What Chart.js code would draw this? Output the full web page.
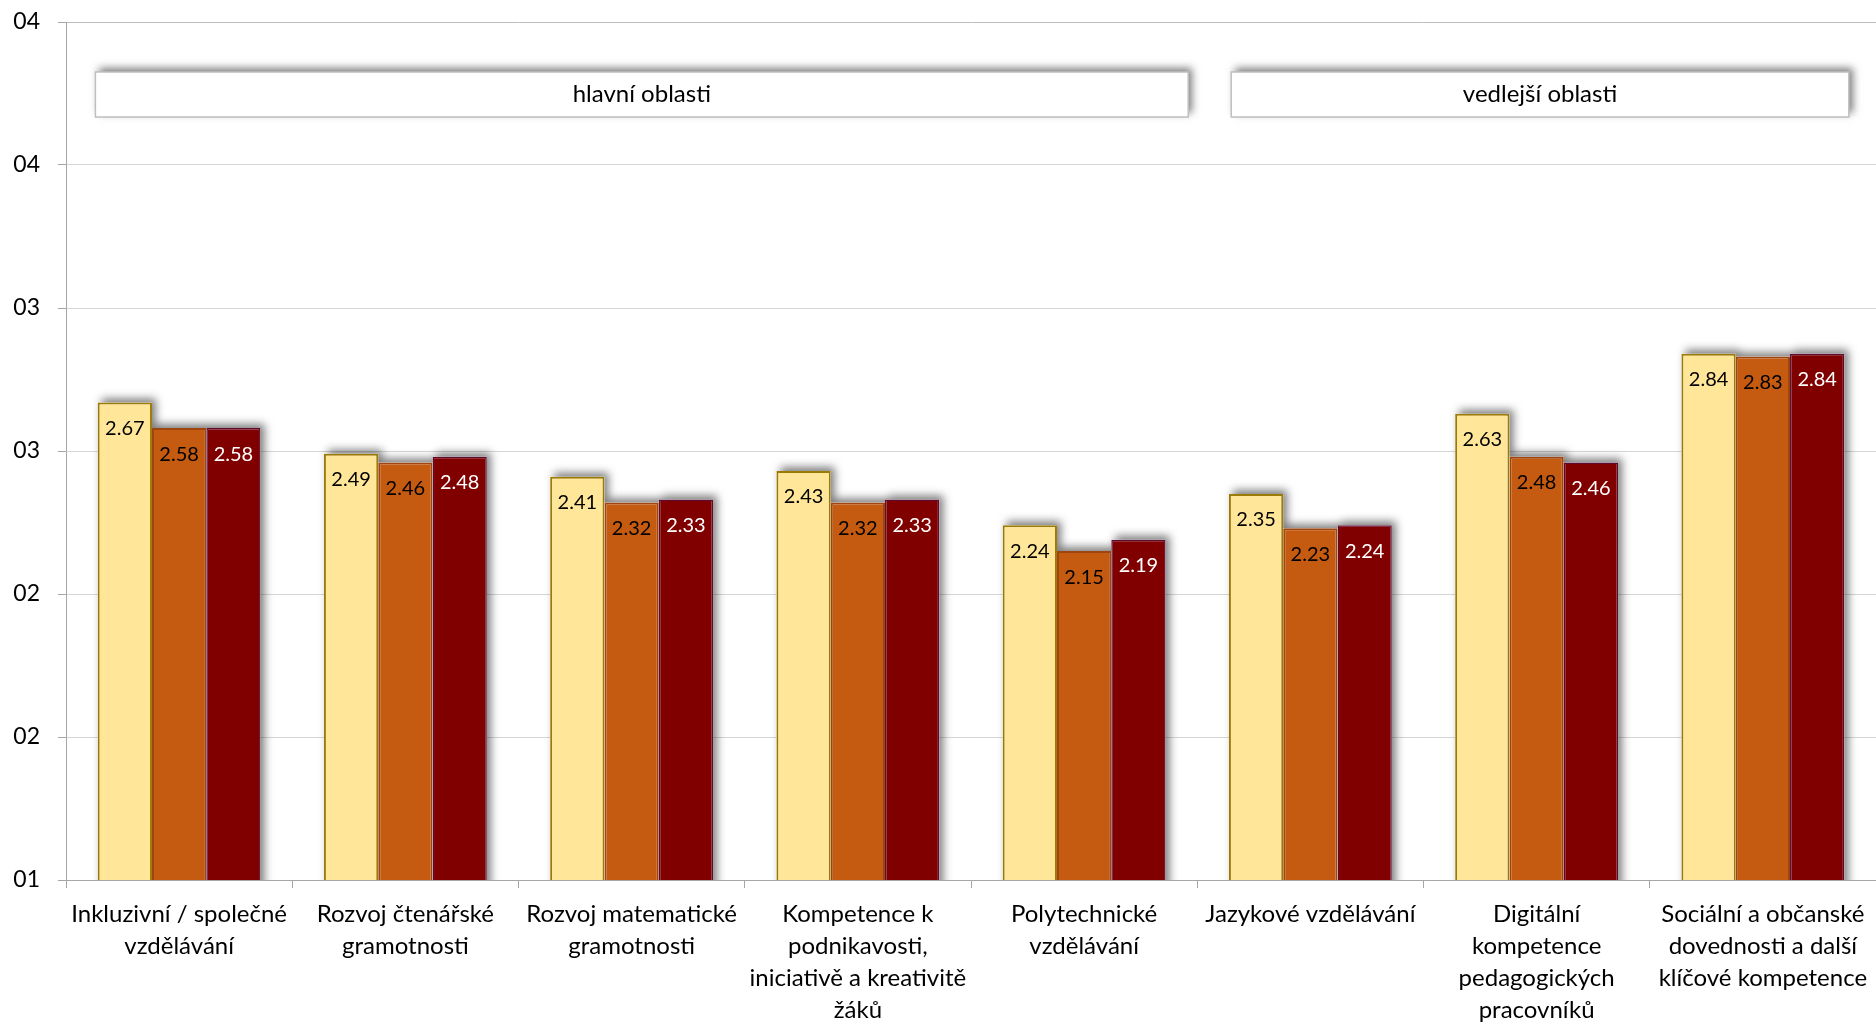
<!DOCTYPE html>
<html><head><meta charset="utf-8">
<script src="https://cdn.jsdelivr.net/npm/chart.js@4.4.1/dist/chart.umd.min.js"></script>
<style>html,body{margin:0;padding:0;background:#fff;}canvas{display:block}</style>
</head><body>
<canvas id="c" width="1876" height="1025"></canvas>
<script>
const categories = [
  ["Inkluzivní / společné", "vzdělávání"],
  ["Rozvoj čtenářské", "gramotnosti"],
  ["Rozvoj matematické", "gramotnosti"],
  ["Kompetence k", "podnikavosti,", "iniciativě a kreativitě", "žáků"],
  ["Polytechnické", "vzdělávání"],
  ["Jazykové vzdělávání"],
  ["Digitální", "kompetence", "pedagogických", "pracovníků"],
  ["Sociální a občanské", "dovednosti a další", "klíčové kompetence"]
];
const series1 = [2.67, 2.49, 2.41, 2.43, 2.24, 2.35, 2.63, 2.84];
const series2 = [2.58, 2.46, 2.32, 2.32, 2.15, 2.23, 2.48, 2.83];
const series3 = [2.58, 2.48, 2.33, 2.33, 2.19, 2.24, 2.46, 2.84];
const yTickLabels = ["01", "02", "02", "03", "03", "04", "04"];
const groupLabels = ["hlavní oblasti", "vedlejší oblasti"];
const groupFirst = [0, 5];
const groupLast = [4, 7];

const FONT = "Lato, 'Open Sans', sans-serif";

const barShadow = {
  id: 'barShadow',
  beforeDatasetsDraw(chart) {
    const ctx = chart.ctx, a = chart.chartArea;
    ctx.save();
    ctx.beginPath();
    ctx.rect(a.left, a.top - 20, a.right - a.left + 20, a.bottom - a.top + 20);
    ctx.clip();
    ctx.shadowColor = 'rgba(0,0,0,0.5)';
    ctx.shadowBlur = 9;
    ctx.shadowOffsetX = 4;
    ctx.shadowOffsetY = -4;
    ctx.fillStyle = '#ffffff';
    ctx.beginPath();
    chart.data.datasets.forEach((ds, i) => {
      chart.getDatasetMeta(i).data.forEach(el => {
        const p = el.getProps(['x', 'y', 'base', 'width'], true);
        ctx.rect(p.x - p.width / 2, p.y, p.width, p.base - p.y);
      });
    });
    ctx.fill();
    ctx.restore();
  }
};

const groupBoxes = {
  id: 'groupBoxes',
  afterDatasetsDraw(chart, args, opts) {
    const ctx = chart.ctx, xs = chart.scales.x, a = chart.chartArea;
    const cw = xs.getPixelForValue(1) - xs.getPixelForValue(0);
    groupLabels.forEach((lab, g) => {
      const x0 = xs.getPixelForValue(groupFirst[g]) + opts.insetLeft[g] * cw;
      const x1 = xs.getPixelForValue(groupLast[g]) + opts.insetRight[g] * cw;
      const y0 = a.top + opts.top, y1 = a.top + opts.top + opts.height;
      ctx.save();
      ctx.shadowColor = 'rgba(0,0,0,0.5)';
      ctx.shadowBlur = 8;
      ctx.shadowOffsetX = 4;
      ctx.shadowOffsetY = -4;
      ctx.fillStyle = '#ffffff';
      ctx.fillRect(x0, y0, x1 - x0, y1 - y0);
      ctx.restore();
      ctx.save();
      ctx.strokeStyle = '#BFBFBF';
      ctx.lineWidth = 1.5;
      ctx.strokeRect(x0, y0, x1 - x0, y1 - y0);
      ctx.fillStyle = '#000';
      ctx.font = "24px " + FONT;
      ctx.textAlign = 'center';
      ctx.textBaseline = 'middle';
      ctx.fillText(lab, (x0 + x1) / 2, (y0 + y1) / 2);
      ctx.restore();
    });
  }
};

const valueLabels = {
  id: 'valueLabels',
  afterDatasetsDraw(chart, args, opts) {
    const ctx = chart.ctx;
    ctx.save();
    ctx.font = "20px " + FONT;
    ctx.textAlign = 'center';
    ctx.textBaseline = 'middle';
    chart.data.datasets.forEach((ds, i) => {
      ctx.fillStyle = opts.colors[i];
      chart.getDatasetMeta(i).data.forEach((el, j) => {
        const p = el.getProps(['x', 'y'], true);
        ctx.fillText(ds.data[j].toFixed(2), p.x, p.y + opts.offset);
      });
    });
    ctx.restore();
  }
};

new Chart(document.getElementById('c'), {
  type: 'bar',
  data: {
    labels: categories,
    datasets: [
      { data: series1, backgroundColor: '#FFE699', borderColor: '#9C7A06', borderWidth: 2 },
      { data: series2, backgroundColor: '#C55A11', borderColor: '#9E4510', borderWidth: 2 },
      { data: series3, backgroundColor: '#800000', borderColor: '#5E0A30', borderWidth: 1.5 }
    ]
  },
  options: {
    responsive: false,
    animation: false,
    devicePixelRatio: 1,
    categoryPercentage: 0.72,
    barPercentage: 1,
    layout: { padding: { left: 0, right: 0, top: 22, bottom: 0 } },
    plugins: {
      legend: { display: false },
      tooltip: { enabled: false },
      groupBoxes: { insetLeft: [-0.37, -0.35], insetRight: [0.46, 0.38], top: 50, height: 45 },
      valueLabels: { colors: ['#000000', '#000000', '#ffffff'], offset: 26 }
    },
    scales: {
      x: {
        afterFit: s => { s.height = 145; s.paddingLeft = 0; s.paddingRight = 0; },
        grid: { offset: true, drawOnChartArea: false, tickLength: 8, tickColor: '#A6A6A6' },
        border: { color: '#A6A6A6', width: 1 },
        ticks: { autoSkip: false, maxRotation: 0, minRotation: 0, color: '#000', padding: 10,
                 font: { family: FONT, size: 24, lineHeight: 1.333 } }
      },
      y: {
        min: 1, max: 4,
        afterFit: s => { s.width = 66; s.paddingTop = 0; s.paddingBottom = 0; },
        ticks: { stepSize: 0.5, color: '#000', padding: 18,
                 font: { family: FONT, size: 23 },
                 callback: (v, i) => yTickLabels[i] },
        grid: { tickLength: 8, tickColor: '#A6A6A6',
                color: c => (c.index === yTickLabels.length - 1 ? '#BDBDBD' : '#D6D6D6') },
        border: { color: '#A6A6A6', width: 1 }
      }
    }
  },
  plugins: [barShadow, groupBoxes, valueLabels]
});
</script>
</body></html>
